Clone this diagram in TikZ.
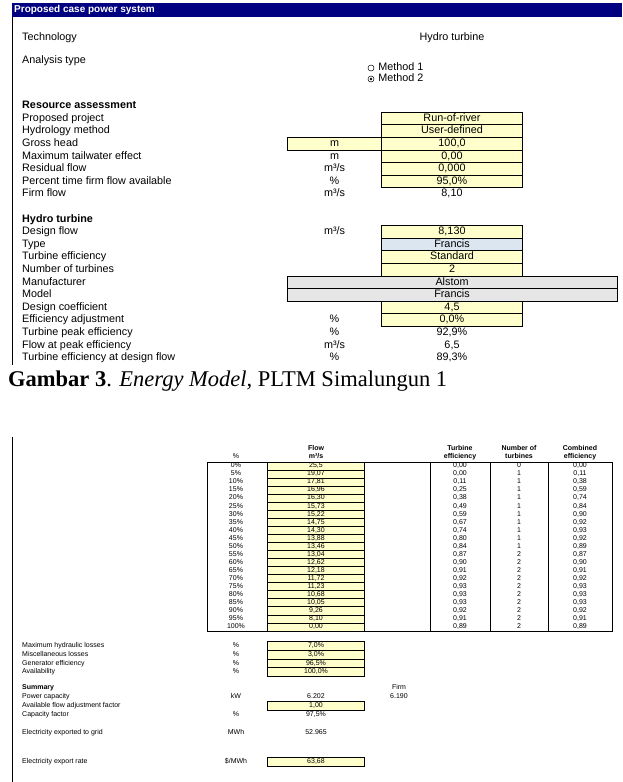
\documentclass[tikz,border=0pt]{standalone}
\usepackage{fontspec}
\setmainfont{Liberation Serif}
\newfontfamily\xls{Liberation Sans}
\usetikzlibrary{positioning}
\definecolor{navy}{RGB}{0,0,128}
\definecolor{cellyellow}{RGB}{255,255,204}
\definecolor{cellblue}{RGB}{220,230,241}
\definecolor{cellgray}{RGB}{230,230,230}
\newcommand{\bigcell}{\xls\fontsize{10.8}{12}\selectfont}
\newcommand{\smallcell}{\xls\fontsize{7}{8}\selectfont}
\tikzset{x=1pt,y=-1pt,
  lbl/.style={anchor=west,inner sep=0pt,font=\bigcell,text height=7.7pt,text depth=2.2pt},
  txt/.style={inner sep=0pt,font=\bigcell,text height=7.7pt,text depth=2.2pt},
  inbox/.style={txt,draw,fill=cellyellow,line width=0.8pt,minimum width=141pt,minimum height=12.6pt},
  graybox/.style={inbox,fill=cellgray,minimum width=330pt},
  radio/.style={draw,circle,inner sep=0pt,minimum size=6pt,line width=0.5pt},
  lbls/.style={anchor=west,inner sep=0pt,font=\smallcell,text height=5pt,text depth=1.5pt},
  txts/.style={inner sep=0pt,font=\smallcell,text height=5pt,text depth=1.5pt},
  hdr/.style={txts,font=\smallcell\bfseries},
  fcell/.style={txts,draw,fill=cellyellow,line width=0.8pt,minimum width=97pt,minimum height=8.05pt}}

\begin{document}
\begin{tikzpicture}
\useasboundingbox (0,0) rectangle (622,782);
% upper sheet
\fill[navy] (12,3) rectangle (622,17);
\node[lbl,text=white,font=\xls\fontsize{10}{12}\selectfont\bfseries] (title) at (14,10) {Proposed case power system};
\draw[line width=1pt] (12.5,17) -- (12.5,365);
\coordinate (unitcol) at (334.5,0);
\coordinate (valcol) at (452,0);
\coordinate (graycol) at (452,0);

\node[lbl] (tech) at (22,37.5) {Technology};
\node[txt] (techval) at (valcol |- tech) {Hydro turbine};
\node[lbl] (analysis) at (22,61) {Analysis type};
\node[radio] (radio1) at (371,68) {};
\node[lbl,right=4pt of radio1] (method1) {Method 1};
\node[radio] (radio2) at (371,79) {};
\node[lbl,right=4pt of radio2] (method2) {Method 2};
\fill (radio2.center) circle (1.3);

\node[lbl,font=\bigcell\bfseries] (resource) at (22,105.9) {Resource assessment};
\foreach \t [count=\k from 0] in {Proposed project,Hydrology method,Gross head,
    Maximum tailwater effect,Residual flow,Percent time firm flow available,Firm flow}
  \node[lbl] (res-\k) at (22,{118.5+12.6*\k}) {\t};
\node[inbox] (proj) at (valcol |- res-0) {Run-of-river};
\node[inbox] (hydro) at (valcol |- res-1) {User-defined};
\node[inbox,minimum width=95pt] (headunit) at (unitcol |- res-2) {m};
\node[inbox] (head) at (valcol |- res-2) {100,0};
\node[txt] (tailunit) at (unitcol |- res-3) {m};
\node[inbox] (tail) at (valcol |- res-3) {0,00};
\node[txt] (residunit) at (unitcol |- res-4) {m³/s};
\node[inbox] (resid) at (valcol |- res-4) {0,000};
\node[txt] (pctunit) at (unitcol |- res-5) {\%};
\node[inbox] (pct) at (valcol |- res-5) {95,0\%};
\node[txt] (firmunit) at (unitcol |- res-6) {m³/s};
\node[txt] (firm) at (valcol |- res-6) {8,10};

\node[lbl,font=\bigcell\bfseries] (turbine) at (22,219.3) {Hydro turbine};
\foreach \t [count=\k from 9] in {Design flow,Type,Turbine efficiency,Number of turbines,
    Manufacturer,Model,Design coefficient,Efficiency adjustment,Turbine peak efficiency,
    Flow at peak efficiency,Turbine efficiency at design flow}
  \node[lbl] (tur-\k) at (22,{118.5+12.6*\k}) {\t};
\node[txt] (dflowunit) at (unitcol |- tur-9) {m³/s};
\node[inbox] (dflow) at (valcol |- tur-9) {8,130};
\node[inbox,fill=cellblue] (type) at (valcol |- tur-10) {Francis};
\node[inbox] (teff) at (valcol |- tur-11) {Standard};
\node[inbox] (nturb) at (valcol |- tur-12) {2};
\node[graybox] (manuf) at (graycol |- tur-13) {Alstom};
\node[graybox] (model) at (graycol |- tur-14) {Francis};
\node[inbox] (dcoef) at (valcol |- tur-15) {4,5};
\node[txt] (adjunit) at (unitcol |- tur-16) {\%};
\node[inbox] (adj) at (valcol |- tur-16) {0,0\%};
\node[txt] (peakunit) at (unitcol |- tur-17) {\%};
\node[txt] (peak) at (valcol |- tur-17) {92,9\%};
\node[txt] (fpeakunit) at (unitcol |- tur-18) {m³/s};
\node[txt] (fpeak) at (valcol |- tur-18) {6,5};
\node[txt] (deseffunit) at (unitcol |- tur-19) {\%};
\node[txt] (deseff) at (valcol |- tur-19) {89,3\%};

\node[anchor=base west,inner sep=0pt,font=\fontsize{22.5}{27}\selectfont] (caption) at (8,386)
  {\textbf{Gambar 3}. \textit{Energy Model,} PLTM Simalungun 1};

% lower sheet
\draw[line width=1pt] (12.5,437) -- (12.5,782);
\coordinate (pctcol) at (236,0);
\coordinate (flowcol) at (316,0);
\coordinate (firmcol) at (399,0);
\node[txts] (hpct) at (236,457) {\%};
\node[hdr] (hflow1) at (316,448.5) {Flow};
\node[hdr] (hflow2) at (316,457) {m³/s};
\node[hdr] (hteff1) at (460,448.5) {Turbine};
\node[hdr] (hteff2) at (460,457) {efficiency};
\node[hdr] (hnum1) at (519,448.5) {Number of};
\node[hdr] (hnum2) at (519,457) {turbines};
\node[hdr] (hcomb1) at (580,448.5) {Combined};
\node[hdr] (hcomb2) at (580,457) {efficiency};
\foreach \p/\f/\t/\n/\c [count=\i from 0] in {0/{25,5}/{0,00}/0/{0,00},5/{19,07}/{0,00}/1/{0,11},
    10/{17,81}/{0,11}/1/{0,38},15/{16,96}/{0,25}/1/{0,59},20/{16,30}/{0,38}/1/{0,74},
    25/{15,73}/{0,49}/1/{0,84},30/{15,22}/{0,59}/1/{0,90},35/{14,75}/{0,67}/1/{0,92},
    40/{14,30}/{0,74}/1/{0,93},45/{13,88}/{0,80}/1/{0,92},50/{13,46}/{0,84}/1/{0,89},
    55/{13,04}/{0,87}/2/{0,87},60/{12,62}/{0,90}/2/{0,90},65/{12,18}/{0,91}/2/{0,91},
    70/{11,72}/{0,92}/2/{0,92},75/{11,23}/{0,93}/2/{0,93},80/{10,68}/{0,93}/2/{0,93},
    85/{10,05}/{0,93}/2/{0,93},90/{9,26}/{0,92}/2/{0,92},95/{8,10}/{0,91}/2/{0,91},
    100/{0,00}/{0,89}/2/{0,89}} {
  \node[txts] (pct-\i) at (236,{466+8.05*\i}) {\p\%};
  \node[fcell] (flow-\i) at (316,{466+8.05*\i}) {\f};
  \node[txts] (teff-\i) at (460,{466+8.05*\i}) {\t};
  \node[txts] (num-\i) at (519,{466+8.05*\i}) {\n};
  \node[txts] (comb-\i) at (580,{466+8.05*\i}) {\c};
}
\draw[line width=1pt] (207,462) rectangle (612,631);
\foreach \x in {430,490,548}
  \draw[line width=1pt] (\x,462) -- (\x,631);

\foreach \t/\v [count=\k from 0] in {Maximum hydraulic losses/{7,0},Miscellaneous losses/{3,0},
    Generator efficiency/{96,5},Availability/{100,0}} {
  \node[lbls] (loss-\k) at (22,{646+8.7*\k}) {\t};
  \node[txts] (lossunit-\k) at (pctcol |- loss-\k) {\%};
  \node[fcell,minimum height=8.7pt] (lossval-\k) at (flowcol |- loss-\k) {\v\%};
}

\node[lbls,font=\smallcell\bfseries] (summary) at (22,688) {Summary};
\node[txts] (firmhdr) at (firmcol |- summary) {Firm};
\node[lbls] (power) at (22,697) {Power capacity};
\node[txts] (powerunit) at (pctcol |- power) {kW};
\node[txts] (powerval) at (flowcol |- power) {6.202};
\node[txts] (powerfirm) at (firmcol |- power) {6.190};
\node[lbls] (avail) at (22,705.7) {Available flow adjustment factor};
\node[fcell,minimum height=8.7pt] (availval) at (flowcol |- avail) {1,00};
\node[lbls] (capf) at (22,714.4) {Capacity factor};
\node[txts] (capfunit) at (pctcol |- capf) {\%};
\node[txts] (capfval) at (flowcol |- capf) {97,5\%};
\node[lbls] (export) at (22,733) {Electricity exported to grid};
\node[txts] (exportunit) at (pctcol |- export) {MWh};
\node[txts] (exportval) at (flowcol |- export) {52.965};
\node[lbls] (rate) at (22,762) {Electricity export rate};
\node[txts] (rateunit) at (pctcol |- rate) {\$/MWh};
\node[fcell,minimum height=8.7pt] (rateval) at (flowcol |- rate) {63,68};
\end{tikzpicture}
\end{document}
